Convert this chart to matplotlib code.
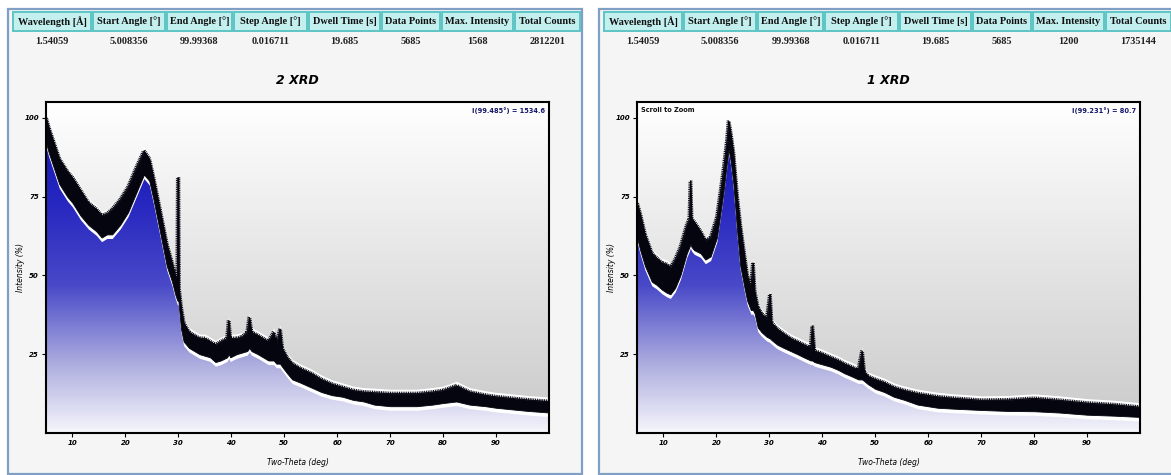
import numpy as np
import matplotlib
matplotlib.use("Agg")
import matplotlib.pyplot as plt
from matplotlib import patheffects
from matplotlib.colors import LinearSegmentedColormap
from matplotlib.patches import Rectangle, Polygon

W, H = 1171, 475

# table contents
headers = ["Wavelength [Å]", "Start Angle [°]", "End Angle [°]", "Step Angle [°]",
           "Dwell Time [s]", "Data Points", "Max. Intensity", "Total Counts"]
values_2 = ["1.54059", "5.008356", "99.99368", "0.016711", "19.685", "5685", "1568", "2812201"]
values_1 = ["1.54059", "5.008356", "99.99368", "0.016711", "19.685", "5685", "1200", "1735144"]

# 2 XRD pattern: two-theta, upper and lower edge of the trace (%)
tt_2 = [5.0, 5.5, 6.5, 7.5, 9.0, 10.0, 11.5, 13.0, 14.5, 15.5, 16.5, 17.5, 19.0, 20.5,
        22.0, 23.5, 24.5, 25.3, 26.5, 27.8, 28.8, 29.4, 29.8, 29.9, 30.0, 30.1, 30.5,
        31.0, 32.0, 33.0, 34.0, 35.0, 36.0, 37.0, 38.0, 39.2, 39.5, 39.8, 41.0, 42.0,
        43.0, 43.4, 43.8, 45.0, 46.0, 47.0, 48.0, 48.5, 49.2, 49.6, 50.5, 51.5, 53.0,
        55.0, 57.0, 59.0, 61.0, 63.0, 65.0, 67.0, 70.0, 75.0, 78.0, 80.0, 82.5, 85.0,
        88.0, 90.0, 93.0, 96.0, 100.0]
hi_2 = [100, 97, 92, 87, 83, 81, 77, 73, 71, 69, 69.5, 71, 74, 78,
        84, 89.5, 87, 81, 71, 60, 54, 50, 48, 81, 81, 46, 40,
        35, 32, 31, 30, 30, 29, 28, 29, 30, 35.7, 30, 30, 30.5,
        32, 36.7, 32, 31, 30, 29, 32, 28, 33, 27, 24, 22, 20.5,
        19, 17, 15.5, 14.5, 13.5, 13, 12.8, 12.5, 12.5, 13, 13.5, 15, 13,
        12, 11.5, 11, 10.5, 10]
lo_2 = [92, 89, 84, 79, 75, 73, 69, 66, 64, 62, 63, 63, 66, 70,
        76, 82, 80, 74, 64, 53, 48, 44, 42, 42, 42, 40, 33,
        29, 27, 26, 25, 24.5, 24, 22.5, 23, 24, 25, 24, 25, 25.5,
        26, 27, 26, 25, 24, 23, 23, 22, 22, 21, 19, 17, 16,
        14.5, 13, 12, 11.5, 10.5, 10, 9, 8.5, 8.5, 9, 9.5, 10, 9,
        8.5, 8, 7.5, 7, 6.5]

# 1 XRD pattern
tt_1 = [5.0, 5.6, 6.5, 7.8, 8.7, 9.7, 10.6, 11.3, 12.2, 13.2, 14.4, 14.9, 15.1, 15.3,
        15.8, 17.0, 17.9, 18.9, 20.1, 21.3, 22.0, 22.3, 22.7, 23.2, 23.9, 24.5, 25.3,
        25.8, 26.5, 26.9, 27.2, 27.8, 28.5, 29.5, 30.1, 30.4, 31.5, 32.7, 34.0, 35.3,
        36.5, 37.8, 38.1, 38.5, 39.5, 41.6, 43.0, 44.1, 45.5, 46.8, 47.5, 47.9, 48.6,
        50.0, 51.7, 53.5, 55.5, 58.0, 61.8, 65.0, 70.0, 75.0, 80.0, 84.7, 90.0, 95.0,
        100.0]
hi_1 = [73, 69.5, 63, 57, 55.5, 54, 53.5, 52.5, 55, 59, 66, 68, 80, 68,
        67, 64, 61, 62, 68.5, 83, 93, 99, 95, 89, 75, 66, 56,
        50, 46, 54, 45, 40, 38, 36, 44, 35, 33, 31.5, 30, 29,
        28, 27, 34, 26, 25.5, 24, 23, 22, 21, 20, 26, 19.5, 18,
        17, 16, 14.5, 13.5, 12.5, 11.5, 11, 10.4, 10.5, 11, 10.4, 9.5, 9,
        8.2]
lo_1 = [62, 58, 53, 48, 47, 45.5, 44.5, 44, 46, 50, 57, 59, 60, 59,
        58, 57, 55, 56, 62, 76, 86, 90, 86, 79, 64, 53, 46,
        42, 39, 39, 38, 33.5, 32, 30.5, 30, 29.5, 28, 27, 26, 25,
        24, 23, 23, 22.5, 22, 21, 20, 19, 18, 17, 17, 16.5, 15.5,
        14, 13, 11.5, 10.5, 9, 8, 7.7, 7.3, 7, 6.9, 6.5, 5.8, 5.5,
        5.1]

x_ticks = [10, 20, 30, 40, 50, 60, 70, 80, 90]
y_ticks = [25, 50, 75, 100]

col_edges = [12, 92, 166, 233, 308, 381, 441, 514, 581]

bg_cmap = LinearSegmentedColormap.from_list("bg", ["#c9c9c9", "#e4e4e4", "#ffffff"])
fill_cmap = LinearSegmentedColormap.from_list(
    "fill", [(0.0, "#f6f6fc"), (0.2, "#b0b0e0"), (0.45, "#4848c8"),
             (0.7, "#2626c0"), (1.0, "#1010b0")])


def fx(x):
    return x / W


def fy(y):
    return 1 - y / H


fig = plt.figure(figsize=(W / 100, H / 100), dpi=100)
fig.patch.set_facecolor("white")


def draw_panel(dx, title, values, tt, hi, lo, readout, scroll):
    # outer frame of the panel
    fig.patches.append(Rectangle((fx(8 + dx), fy(474)), fx(574), 465 / H,
                                 transform=fig.transFigure, facecolor="#f5f5f5",
                                 edgecolor="#7f9fc4", lw=1.6, zorder=-2))
    # header table
    for i, name in enumerate(headers):
        x0 = col_edges[i] + dx
        x1 = col_edges[i + 1] + dx
        fig.patches.append(Rectangle((fx(x0 + 1), fy(31)), fx(x1 - x0 - 2), 19 / H,
                                     transform=fig.transFigure, facecolor="#c4efef",
                                     edgecolor="#5ec4c4", lw=1.4, zorder=-1))
        xc = fx((x0 + x1) / 2)
        fig.text(xc, fy(21.5), name, ha="center", va="center", fontsize=7.4,
                 fontweight="bold", family="Liberation Serif", color="#101010")
        fig.text(xc, fy(41), values[i], ha="center", va="center", fontsize=7.4,
                 fontweight="bold", family="Liberation Serif", color="#202020")

    fig.text(fx(297 + dx), fy(80), title, ha="center", va="center", fontsize=9,
             fontweight="bold", fontstyle="italic", family="DejaVu Sans")

    ax = fig.add_axes([fx(46 + dx), fy(433), fx(503), 331 / H])
    ax.set_zorder(2)
    ax.set_xlim(5, 100)
    ax.set_ylim(0, 105)

    grad = np.linspace(0, 1, 256).reshape(-1, 1)
    ax.imshow(grad, extent=[5, 100, 0, 105], origin="lower", aspect="auto",
              cmap=bg_cmap, zorder=0)

    tt = np.array(tt)
    hi = np.array(hi)
    lo = np.array(lo)

    # blue gradient under the trace
    under = Polygon(np.column_stack([np.r_[tt, tt[-1], tt[0]], np.r_[lo, 0, 0]]),
                    closed=True, transform=ax.transData, facecolor="none",
                    edgecolor="none")
    ax.add_patch(under)
    im = ax.imshow(grad, extent=[5, 100, 0, 105], origin="lower", aspect="auto",
                   cmap=fill_cmap, zorder=1)
    im.set_clip_path(under)

    # white halo, then the black trace band with a slightly ragged top edge
    ax.fill_between(tt, lo - 1.3, hi + 1.4, color="white", lw=0, zorder=2)
    ax.fill_between(tt, lo, hi, color="#050510", lw=0.6, edgecolor="#050510", zorder=3)
    ax.plot(tt, hi, color="#050510", lw=0.6, zorder=4,
            path_effects=[patheffects.withTickedStroke(spacing=1.3, length=0.8,
                                                       angle=90, linewidth=0.7,
                                                       foreground="#050510")])

    ax.set_xticks(x_ticks)
    ax.set_yticks(y_ticks)
    ax.tick_params(labelsize=5, length=3, width=0.8, pad=2)
    for lab in ax.get_xticklabels() + ax.get_yticklabels():
        lab.set_fontweight("bold")
        lab.set_fontstyle("italic")
    for s in ax.spines.values():
        s.set_linewidth(1.5)
        s.set_zorder(6)
    ax.set_xlabel("Two-Theta (deg)", fontsize=5.5, fontstyle="italic")
    ax.set_ylabel("Intensity (%)", fontsize=5.5, fontstyle="italic")
    ax.xaxis.set_label_coords(0.5, -0.075)
    ax.yaxis.set_label_coords(-0.042, 0.5)

    ax.text(0.993, 0.985, readout, transform=ax.transAxes, ha="right", va="top",
            fontsize=4.8, fontweight="bold", color="#15156a", zorder=5)
    if scroll:
        ax.text(0.007, 0.985, "Scroll to Zoom", transform=ax.transAxes, ha="left",
                va="top", fontsize=4.8, fontweight="bold", color="#101010", zorder=5)
    return ax


draw_panel(0, "2 XRD", values_2, tt_2, hi_2, lo_2, "I(99.485°) = 1534.6", False)
draw_panel(591, "1 XRD", values_1, tt_1, hi_1, lo_1, "I(99.231°) = 80.7", True)

fig.savefig("out.png", dpi=100)
